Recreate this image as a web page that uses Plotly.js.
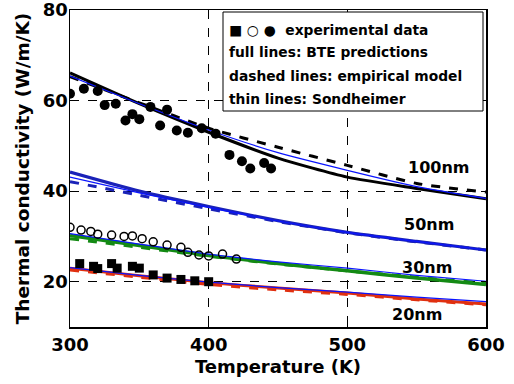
<!DOCTYPE html>
<html>
<head>
<meta charset="utf-8">
<script src="https://cdn.plot.ly/plotly-3.0.1.min.js"></script>
<style>html,body{margin:0;padding:0;background:#fff;}#chart{width:514px;height:384px;}</style>
</head>
<body>
<div id="chart"></div>
<script>
// Temperature grid for model curves (K)
const T_model = [300, 350, 400, 450, 500, 550, 600];

// 100 nm
const bte100  = [66.1, 59.3, 53.0, 47.3, 43.1, 40.6, 38.3];
const emp100  = [65.3, 59.5, 53.9, 49.7, 45.7, 41.7, 39.8];
const sond100 = [65.4, 59.3, 53.5, 48.5, 44.6, 41.0, 38.4];
// 50 nm
const bte50  = [44.2, 40.0, 36.6, 33.5, 30.9, 28.9, 27.0];
const emp50  = [42.1, 39.1, 36.1, 33.3, 30.8, 28.8, 27.0];
const sond50 = [43.1, 39.6, 36.4, 33.4, 30.9, 28.9, 27.0];
// 30 nm
const bte30  = [30.2, 28.0, 25.8, 24.0, 22.4, 20.8, 19.4];
const emp30  = [29.5, 27.6, 25.6, 23.9, 22.4, 21.0, 19.7];
const sond30 = [30.6, 28.3, 26.1, 24.4, 23.0, 21.4, 20.1];
// 20 nm
const bte20  = [23.0, 21.3, 19.8, 18.6, 17.5, 16.2, 15.1];
const emp20  = [22.6, 21.0, 19.4, 18.2, 17.2, 16.0, 14.9];
const sond20 = [23.1, 21.4, 19.9, 18.7, 17.7, 16.6, 15.6];

// Experimental data
const T_exp100 = [300, 310, 320, 325, 333, 340, 345, 350, 358, 365, 370, 377, 385, 395, 405, 415, 424, 430, 440, 445];
const k_exp100 = [61.5, 62.6, 62.1, 59.0, 59.3, 55.6, 57.0, 55.9, 58.6, 54.5, 58.0, 53.4, 52.9, 53.9, 52.7, 48.0, 46.6, 45.0, 46.2, 45.0];
const T_exp30 = [300, 308, 315, 320, 330, 339, 345, 352, 360, 370, 380, 385, 393, 400, 410, 420];
const k_exp30 = [32.0, 31.4, 31.1, 30.5, 30.3, 30.0, 30.1, 29.5, 28.8, 28.1, 27.6, 26.5, 25.9, 25.7, 26.1, 25.0];
const T_exp20 = [307, 317, 320, 330, 334, 345, 350, 360, 370, 380, 390, 400];
const k_exp20 = [24.0, 23.4, 22.9, 24.0, 23.0, 23.4, 23.0, 21.5, 20.8, 20.5, 20.2, 20.0];

const labels = ["100nm", "50nm", "30nm", "20nm"];
const legendLines = [
  "\u25A0 \u25CB \u25CF  experimental data",
  "full lines: BTE predictions",
  "dashed lines: empirical model",
  "thin lines: Sondheimer"
];

const BLACK = "#000000", BLUE = "#1a22b8", THIN = "#0a14ff", GREEN = "#148a14", RED = "#e03010";

function line(y, color, width, dash) {
  return {x: T_model, y: y, mode: "lines", line: {color: color, width: width, dash: dash || "solid", shape: "spline", smoothing: 0.6}, hoverinfo: "skip", showlegend: false};
}

const traces = [
  line(emp100, BLACK, 3, "dash"),
  line(bte100, BLACK, 3),
  line(sond100, THIN, 1.2),
  line(emp50, BLUE, 3, "dash"),
  line(bte50, BLUE, 3.2),
  line(sond50, THIN, 1.2),
  line(emp30, GREEN, 3, "dash"),
  line(bte30, GREEN, 3.5),
  line(sond30, THIN, 1.2),
  line(emp20, RED, 3, "dash"),
  line(bte20, RED, 3),
  line(sond20, THIN, 1.2),
  {x: T_exp100, y: k_exp100, mode: "markers", marker: {symbol: "circle", size: 10, color: BLACK}, showlegend: false},
  {x: T_exp30, y: k_exp30, mode: "markers", marker: {symbol: "circle-open", size: 8, color: BLACK, line: {width: 1.5, color: BLACK}}, showlegend: false},
  {x: T_exp20, y: k_exp20, mode: "markers", marker: {symbol: "square", size: 9, color: BLACK}, showlegend: false}
];

const FONT = "DejaVu Sans";
const ann = [];
const labPos = [[565.6, 45.3], [559.1, 32.7], [557.2, 23.1], [550.0, 12.8]];
labels.forEach((t, i) => ann.push({x: labPos[i][0], y: labPos[i][1], xref: "x", yref: "y", text: t, showarrow: false,
  font: {family: FONT, size: 16, color: "#000", weight: "bold"}, xanchor: "center", yanchor: "middle"}));
const legY = [0.938, 0.866, 0.793, 0.718];
legendLines.forEach((t, i) => ann.push({x: (227 - 70) / 416, y: legY[i], xref: "paper", yref: "paper", text: t, showarrow: false,
  font: {family: FONT, size: 13.8, color: "#000", weight: "bold"}, xanchor: "left", yanchor: "middle", align: "left"}));

const layout = {
  width: 514, height: 384,
  margin: {l: 70, r: 28, t: 10, b: 57, pad: 0},
  paper_bgcolor: "#fff", plot_bgcolor: "#fff",
  font: {family: FONT, color: "#000"},
  showlegend: false,
  xaxis: {
    range: [300, 600], tickvals: [300, 400, 500, 600], ticktext: ["300", "400", "500", "600"],
    showline: true, linecolor: "#000", linewidth: 1.5, mirror: "ticks",
    ticks: "inside", ticklen: 5, tickcolor: "#000",
    showgrid: true, gridcolor: "#000", gridwidth: 1, griddash: "dash",
    zeroline: false, ticklabelstandoff: 1, ticklabeloverflow: "allow",
    tickfont: {family: FONT, size: 18, weight: "bold", color: "#000"},
    title: {text: "Temperature (K)", font: {family: FONT, size: 18, weight: "bold", color: "#000"}, standoff: 6}
  },
  yaxis: {
    range: [10, 80], tickvals: [20, 40, 60, 80], ticktext: ["20", "40", "60", "80"],
    showline: true, linecolor: "#000", linewidth: 1.5, mirror: "ticks",
    ticks: "inside", ticklen: 5, tickcolor: "#000",
    showgrid: true, gridcolor: "#000", gridwidth: 1, griddash: "dash",
    zeroline: false, ticklabelstandoff: -3, ticklabeloverflow: "allow",
    tickfont: {family: FONT, size: 18, weight: "bold", color: "#000"},
    title: {text: "Thermal conductivity (W/m/K)", font: {family: FONT, size: 18.5, weight: "bold", color: "#000"}, standoff: 8}
  },
  shapes: [{type: "rect", xref: "paper", yref: "paper",
    x0: (223 - 70) / 416, x1: (483 - 70) / 416, y0: (327 - 111) / 317, y1: (327 - 12) / 317,
    line: {color: "#000", width: 1}, fillcolor: "#fff", layer: "above"}],
  annotations: ann
};

Plotly.newPlot("chart", traces, layout, {staticPlot: true, displayModeBar: false});
</script>
</body>
</html>
